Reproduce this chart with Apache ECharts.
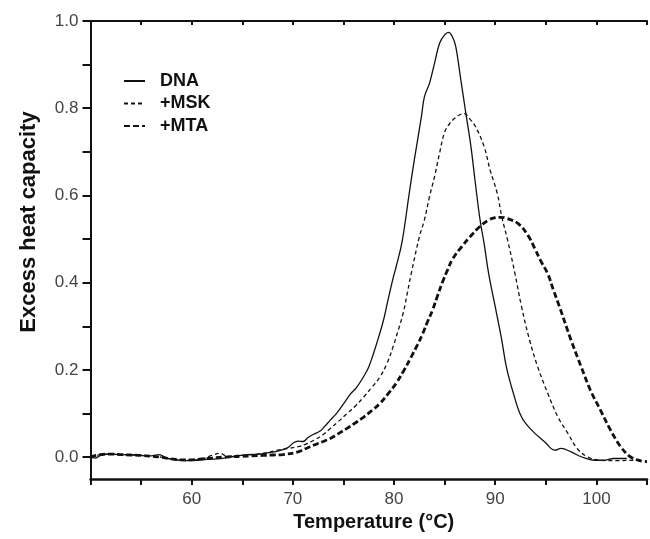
<!DOCTYPE html>
<html>
<head>
<meta charset="utf-8">
<script src="https://cdn.jsdelivr.net/npm/echarts@6/dist/echarts.min.js"></script>
<style>html,body{margin:0;padding:0;background:#fff}#c{width:650px;height:539px}</style>
</head>
<body>
<div id="c"></div>
<script>
// ---- data ----
const seriesNames = ['DNA', '+MSK', '+MTA'];

const dnaT = [50,50.5,51,52,53,54,55,56,56.8,57.5,58.5,59.5,60.5,61.5,62.5,63.5,64.5,65.5,66.5,67.5,68.5,69.5,70,70.5,71,71.5,72,72.7,73.2,73.7,74.3,75,75.7,76.3,77,77.5,78,78.5,79,79.4,79.9,80.2,80.8,81.5,82,82.7,83,83.5,84,84.5,85,85.4,85.8,86.1,86.6,87.1,87.6,88,88.5,88.9,89.35,90,90.65,91.1,91.8,92.6,93.6,94.9,95.9,96.5,97.5,98.5,99.8,100.7,101.7,103];
const dnaV = [0,-0.002,0.004,0.007,0.006,0.006,0.004,0.003,0.006,-0.002,-0.006,-0.008,-0.007,-0.005,-0.004,-0.001,0.003,0.006,0.007,0.010,0.014,0.022,0.032,0.037,0.036,0.045,0.052,0.060,0.072,0.085,0.100,0.122,0.145,0.160,0.185,0.207,0.240,0.277,0.318,0.360,0.410,0.436,0.495,0.605,0.681,0.780,0.826,0.857,0.903,0.949,0.968,0.974,0.962,0.941,0.865,0.788,0.712,0.635,0.544,0.490,0.421,0.345,0.268,0.207,0.146,0.092,0.062,0.035,0.016,0.020,0.012,0.001,-0.007,-0.007,-0.003,-0.003];

const mskT = [50,51,52,53,54,55,56,57,58,59,60,61,62,62.8,63.5,64.5,65.5,66.5,67.5,68.5,69.5,70.5,71.3,72.1,73,73.7,74.5,75.35,76.2,77,77.8,78.6,79.3,79.9,80.4,80.9,81.3,81.7,82.5,83,83.5,84,84.5,85,85.5,86,86.5,86.9,87.5,88.05,88.9,89.5,90.2,90.65,91.2,91.95,92.6,93.4,94.2,95.2,96.2,97.2,98.1,99.1,100.4,102,103.7,104.6];
const mskV = [0,0.006,0.007,0.006,0.005,0.004,0.002,0,-0.004,-0.007,-0.007,-0.004,0.004,0.009,0.002,0.004,0.005,0.007,0.011,0.016,0.020,0.024,0.030,0.039,0.052,0.066,0.082,0.100,0.118,0.138,0.160,0.184,0.215,0.253,0.290,0.330,0.375,0.421,0.505,0.544,0.597,0.643,0.697,0.745,0.765,0.777,0.785,0.788,0.775,0.758,0.712,0.658,0.605,0.551,0.500,0.421,0.345,0.268,0.207,0.146,0.092,0.054,0.020,0.001,-0.007,-0.008,-0.007,-0.010];

const mtaT = [50,51,52,53,54,55,56,57,58,59,60,61,62,63,64,65,66,67,68,69,70.5,71.3,72.1,73,73.7,74.5,75.35,76.2,77,77.8,78.6,79.4,80.2,81,81.7,82.3,82.85,83.3,83.8,84.3,84.8,85.3,85.8,86.7,87.5,88.4,89.3,90,90.5,91.2,92.3,93.25,93.9,94.5,95.2,95.8,96.35,97.5,98.5,99.4,100.4,101.4,102.4,103.35,104.3,105];
const mtaV = [0,0.006,0.007,0.006,0.005,0.004,0.002,0,-0.004,-0.006,-0.006,-0.004,-0.002,0,0.001,0.002,0.003,0.004,0.005,0.006,0.012,0.020,0.028,0.036,0.043,0.054,0.066,0.079,0.092,0.107,0.123,0.145,0.169,0.200,0.230,0.257,0.284,0.310,0.337,0.370,0.402,0.430,0.455,0.483,0.505,0.527,0.543,0.549,0.550,0.547,0.535,0.508,0.479,0.450,0.420,0.380,0.345,0.268,0.207,0.154,0.108,0.062,0.024,0.001,-0.008,-0.010];

const xLabelValues = [60,70,80,90,100];
const yTickValues = [0,0.1,0.2,0.3,0.4,0.5,0.6,0.7,0.8,0.9,1.0];
const yLabelValues = [0,0.2,0.4,0.6,0.8,1.0];

function pairs(t, v){ return t.map((x,i)=>[x, v[i]]); }

const FONT = '"Liberation Sans", Arial, sans-serif';
const chart = echarts.init(document.getElementById('c'), null, {renderer:'canvas'});
chart.setOption({
  animation: false,
  backgroundColor: '#fff',
  grid: {left: 90.5, right: -3, top: 21, bottom: 60},
  legend: {
    orient: 'vertical', left: 118, top: 67,
    itemWidth: 21, itemHeight: 14, itemGap: 4.5,
    data: seriesNames,
    itemStyle: {color: 'rgba(0,0,0,0)', borderWidth: 0, opacity: 0},
    textStyle: {fontFamily: FONT, fontSize: 18, fontWeight: 'bold', color: '#111', padding: [0,0,0,10]}
  },
  xAxis: [{
    type: 'value', min: 50, max: 105, interval: 5, position: 'bottom',
    name: 'Temperature (°C)', nameLocation: 'middle', nameGap: 32,
    nameTextStyle: {fontFamily: FONT, fontSize: 20, fontWeight: 'bold', color: '#111', padding: [0,0,0,10]},
    axisLine: {show: true, onZero: false, lineStyle: {color: '#111', width: 2.5}},
    axisTick: {show: true, inside: false, length: 6, lineStyle: {color:'#111', width: 2}},
    axisLabel: {show: true, margin: 12, fontFamily: FONT, fontSize: 17, color: '#444',
      formatter: v => xLabelValues.indexOf(v) >= 0 ? String(v) : ''},
    splitLine: {show: false}
  },{
    type: 'value', min: 50, max: 105, interval: 5, position: 'top',
    axisLine: {show: true, onZero: false, lineStyle: {color: '#111', width: 2}},
    axisTick: {show: true, inside: true, length: 4, lineStyle: {color:'#111', width: 2}},
    axisLabel: {show: false},
    splitLine: {show: false}
  }],
  yAxis: {
    type: 'value', min: -0.05, max: 1.0,
    name: 'Excess heat capacity', nameLocation: 'middle', nameGap: 51, nameRotate: 90,
    nameTextStyle: {fontFamily: FONT, fontSize: 22, fontWeight: 'bold', color: '#111', padding: [0,0,0,56]},
    axisLine: {show: true, onZero: false, lineStyle: {color: '#111', width: 2}},
    axisTick: {show: true, inside: false, length: 8, customValues: yTickValues, lineStyle: {color:'#111', width: 2}},
    axisLabel: {show: true, margin: 12, customValues: yLabelValues, fontFamily: FONT, fontSize: 17, color: '#444',
      formatter: v => v.toFixed(1)},
    splitLine: {show: false}
  },
  series: [
    {name: seriesNames[0], type: 'line', data: pairs(dnaT, dnaV), showSymbol: false, symbol: 'none', smooth: 0.4,
      lineStyle: {color: '#111', width: 1.3, type: 'solid'}, itemStyle:{color:'#111'}},
    {name: seriesNames[1], type: 'line', data: pairs(mskT, mskV), showSymbol: false, symbol: 'none', smooth: 0.4,
      lineStyle: {color: '#111', width: 1.3, type: [4,3]}, itemStyle:{color:'#111'}},
    {name: seriesNames[2], type: 'line', data: pairs(mtaT, mtaV), showSymbol: false, symbol: 'none', smooth: 0.4,
      lineStyle: {color: '#111', width: 2.8, type: [6,3]}, itemStyle:{color:'#111'}}
  ]
});
</script>
</body>
</html>
